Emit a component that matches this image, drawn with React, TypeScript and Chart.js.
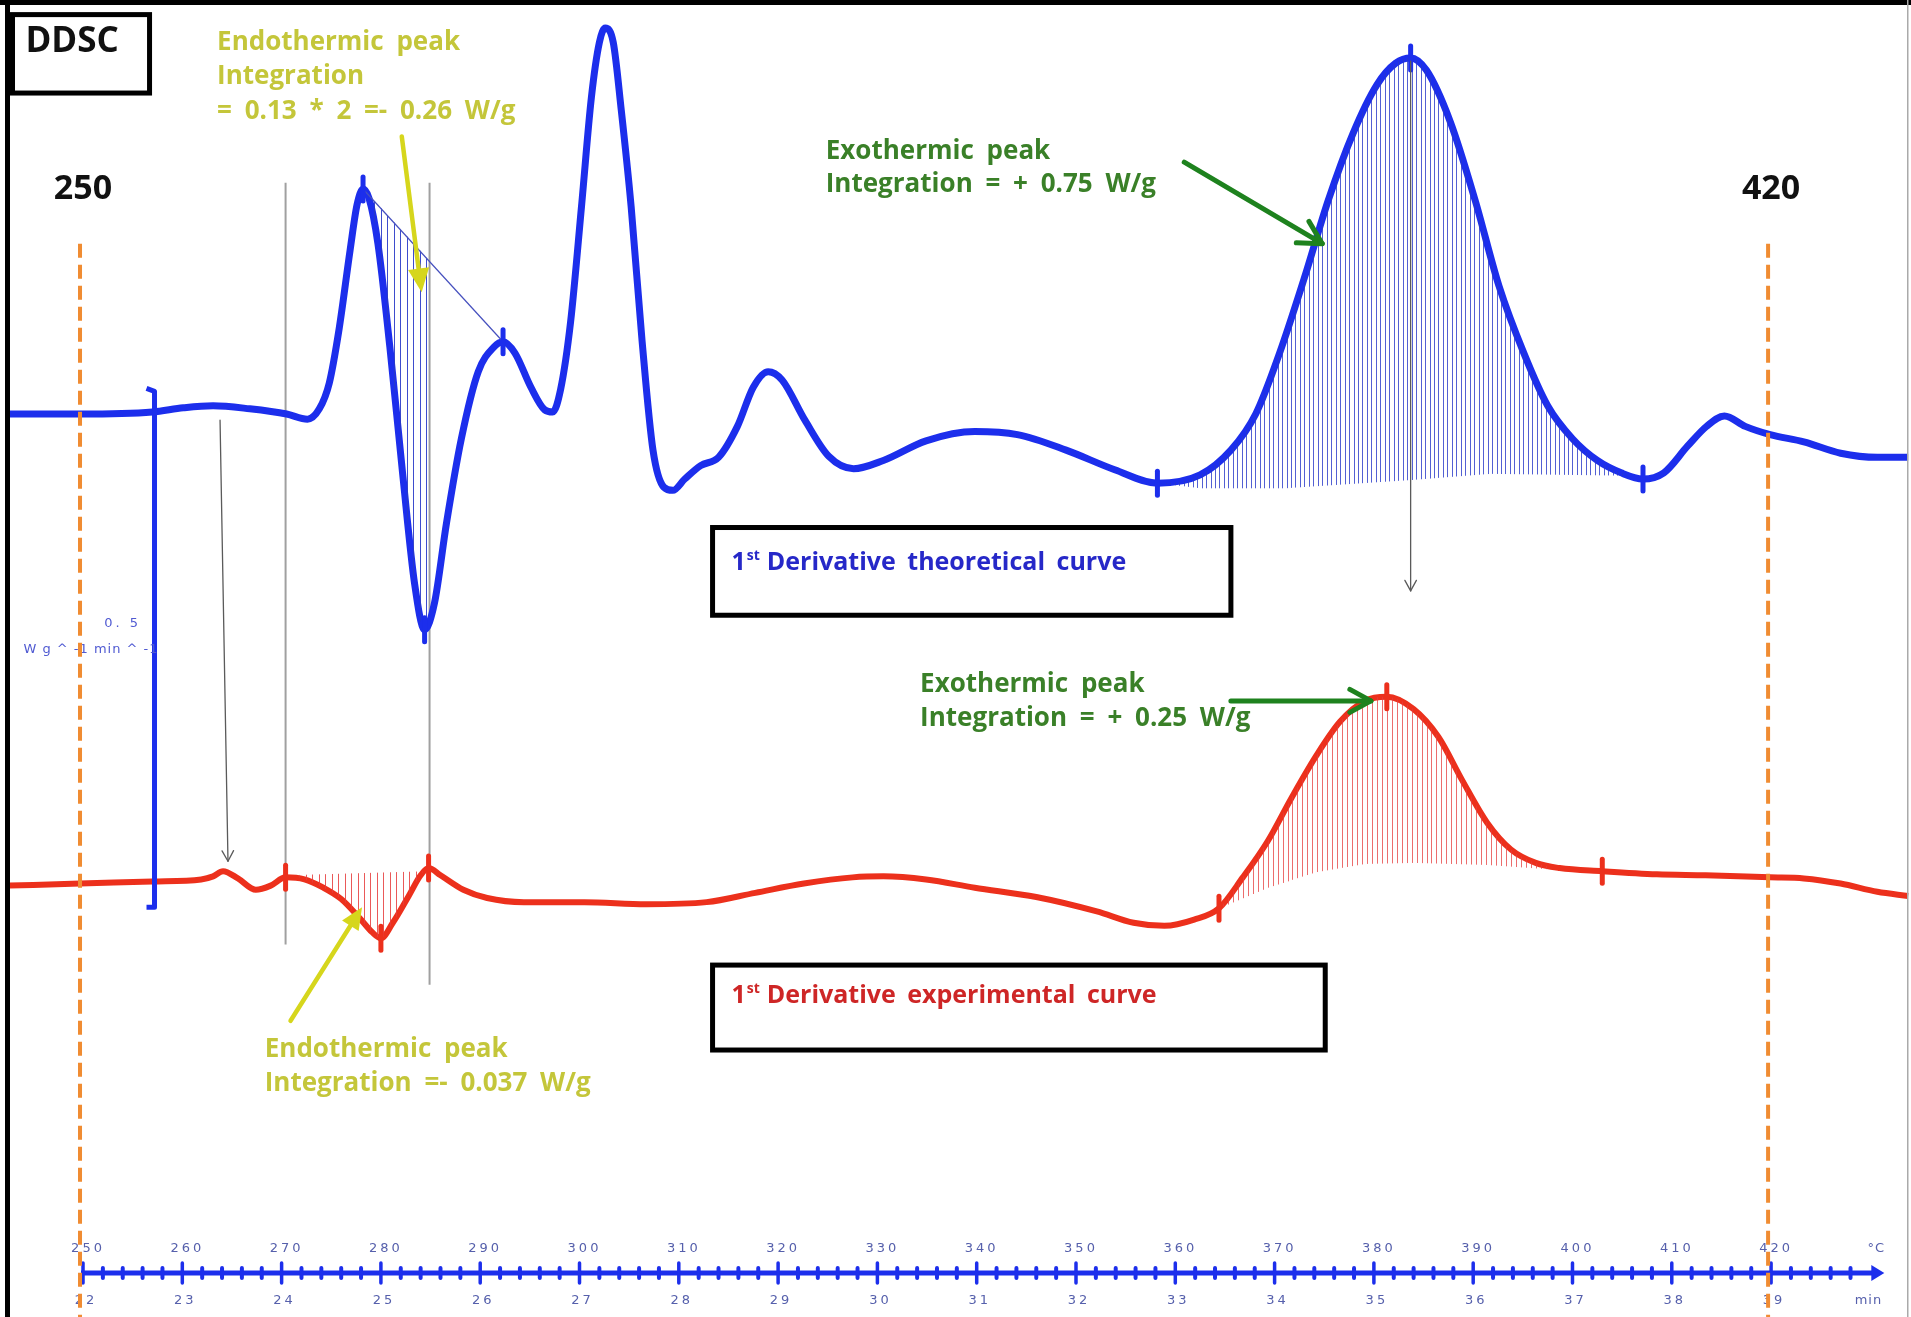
import React, { useEffect, useRef } from 'react';
import { Chart, registerables } from 'chart.js';

Chart.register(...registerables);

// ---------- DATA ----------
// 1st derivative theoretical curve (°C, W g^-1 min^-1 relative to its own baseline)
const theoTemp = [242.6, 249.7, 257.0, 260.1, 263.1, 266.8, 270.5, 272.6, 273.8, 274.8,
  275.8, 276.9, 277.6, 278.2, 278.8, 279.7, 280.9, 282.2, 283.4, 284.4,
  285.4, 286.6, 288.1, 289.8, 291.4, 292.3, 293.5, 295.1, 296.5, 297.3,
  298.1, 299.1, 300.2, 301.2, 302.0, 302.6, 303.4, 304.2, 305.2, 306.3,
  307.4, 308.5, 309.4, 310.6, 312.2, 314.0, 315.9, 317.5, 319.0, 320.4,
  322.7, 325.1, 327.6, 330.6, 334.9, 339.8, 344.1, 349.0, 353.9, 358.2,
  362.5, 365.6, 368.1, 370.5, 373.0, 375.4, 377.9, 380.3, 382.2, 383.7,
  385.3, 387.7, 390.2, 392.6, 395.1, 397.5, 400.0, 402.5, 404.9, 407.1,
  409.2, 411.6, 413.5, 415.3, 417.4, 419.9, 423.3, 427.0, 430.7, 433.8];
const theoValue = [0, 0, 0.002, 0.006, 0.008, 0.005, 0, -0.005, 0.005, 0.030,
  0.083, 0.159, 0.203, 0.218, 0.209, 0.165, 0.065, -0.059, -0.165, -0.209,
  -0.183, -0.106, -0.024, 0.041, 0.065, 0.070, 0.059, 0.026, 0.004, 0.002,
  0.024, 0.089, 0.201, 0.307, 0.360, 0.374, 0.360, 0.295, 0.201, 0.071,
  -0.035, -0.071, -0.074, -0.063, -0.050, -0.042, -0.012, 0.026, 0.041, 0.033,
  -0.006, -0.041, -0.053, -0.045, -0.026, -0.017, -0.020, -0.035, -0.054, -0.067,
  -0.059, -0.035, 0, 0.059, 0.132, 0.207, 0.272, 0.319, 0.340, 0.345,
  0.333, 0.283, 0.207, 0.124, 0.059, 0.008, -0.024, -0.045, -0.057, -0.063,
  -0.057, -0.031, -0.012, -0.002, -0.012, -0.020, -0.027, -0.038, -0.042, -0.042];

// 1st derivative experimental curve
const expTemp = [242.6, 249.7, 257.0, 261.9, 263.1, 264.1, 265.6, 267.4, 268.9, 270.4,
  272.3, 274.2, 276.0, 277.9, 279.1, 280.0, 281.2, 282.8, 284.0, 284.8,
  286.0, 288.3, 290.7, 294.4, 300.5, 306.7, 312.8, 317.7, 322.6, 327.5,
  330.6, 334.9, 339.8, 346.0, 352.1, 355.8, 358.9, 361.9, 364.4, 366.8,
  369.3, 371.7, 374.2, 376.6, 379.1, 381.3, 384.0, 386.5, 388.9, 391.4,
  393.8, 396.3, 398.7, 403.0, 408.5, 413.4, 419.9, 423.3, 427.0, 430.7, 433.8];
const expValue = [-0.002, 0, 0.002, 0.004, 0.007, 0.012, 0.005, -0.006, -0.002, 0.006,
  0.004, -0.004, -0.015, -0.034, -0.047, -0.053, -0.038, -0.012, 0.008, 0.015,
  0.008, -0.006, -0.014, -0.018, -0.018, -0.020, -0.018, -0.009, 0, 0.006,
  0.007, 0.004, -0.004, -0.013, -0.027, -0.038, -0.041, -0.035, -0.024, 0.006,
  0.041, 0.083, 0.124, 0.157, 0.177, 0.181, 0.169, 0.142, 0.100, 0.059,
  0.033, 0.020, 0.015, 0.012, 0.009, 0.008, 0.006, 0.005, 0, -0.008, -0.012];

// vertical offsets of the two curves on the common W g^-1 min^-1 axis
const THEO_OFFSET = 0.875;
const EXP_OFFSET = 0.42;

// integration markers (temperatures of data points)
const theoMarkerTemp = [278.2, 284.4, 292.3, 358.2, 383.7, 407.1];
const expMarkerTemp = [270.4, 280.0, 284.8, 364.4, 381.3, 403.0];

// integration baselines (relative values) and hatched ranges
const theoEndoBaseTemp = [278.2, 292.3];
const theoEndoBaseValue = [0.218, 0.070];
const theoEndoRange = [278.7, 284.9];
const theoExoBaseTemp = [358.2, 362.5, 371.0, 383.7, 391.7, 407.1];
const theoExoBaseValue = [-0.067, -0.072, -0.072, -0.064, -0.058, -0.060];
const theoExoRange = [358.6, 406.6];
const expEndoBaseTemp = [270.4, 284.8];
const expEndoBaseValue = [0.008, 0.012];
const expEndoRange = [271.8, 284.3];
const expExoBaseTemp = [364.4, 369.3, 374.2, 379.1, 384.0, 391.4, 398.7, 403.0];
const expExoBaseValue = [-0.024, -0.004, 0.011, 0.019, 0.020, 0.018, 0.013, 0.012];
const expExoRange = [364.8, 397.5];

// axis tick labels
const tempTickLabels = ['250', '260', '270', '280', '290', '300', '310', '320', '330', '340',
  '350', '360', '370', '380', '390', '400', '410', '420'];
const minTickLabels = ['22', '23', '24', '25', '26', '27', '28', '29', '30', '31',
  '32', '33', '34', '35', '36', '37', '38', '39'];
const limitTemps = [250, 420];
const scaleBarValue = 0.5;

// ---------- LAYOUT / STYLE ----------
const W = 1911;
const H = 1317;
const X_MIN = 241.64;
const X_MAX = 434.09;
const Y_MAX = 1.27616;
const BLUE = 'rgb(28,46,236)';
const RED = 'rgb(236,48,28)';
const FONT = '"Open Sans", "DejaVu Sans", sans-serif';
const YELLOW_TXT = 'rgb(196,198,58)';
const YELLOW = 'rgb(214,214,28)';
const GREEN_TXT = 'rgb(58,128,40)';
const GREEN = 'rgb(30,130,30)';
const AXIS_TXT = 'rgb(86,96,172)';

function interp(xs: number[], ys: number[], x: number) {
  if (x <= xs[0]) return ys[0];
  for (let i = 1; i < xs.length; i++) {
    if (x <= xs[i]) {
      const f = (x - xs[i - 1]) / (xs[i] - xs[i - 1]);
      return ys[i - 1] + f * (ys[i] - ys[i - 1]);
    }
  }
  return ys[ys.length - 1];
}

function drawArrow(ctx: CanvasRenderingContext2D, x1: number, y1: number, x2: number, y2: number,
  color: string, width: number, head: number, filled: boolean) {
  const a = Math.atan2(y2 - y1, x2 - x1);
  ctx.save();
  ctx.strokeStyle = color;
  ctx.fillStyle = color;
  ctx.lineWidth = width;
  ctx.lineCap = 'round';
  ctx.lineJoin = 'round';
  ctx.beginPath();
  ctx.moveTo(x1, y1);
  const back = filled ? head * 0.7 : 0;
  ctx.lineTo(x2 - Math.cos(a) * back, y2 - Math.sin(a) * back);
  ctx.stroke();
  const spread = filled ? 0.42 : 0.5;
  const hx1 = x2 - head * Math.cos(a - spread);
  const hy1 = y2 - head * Math.sin(a - spread);
  const hx2 = x2 - head * Math.cos(a + spread);
  const hy2 = y2 - head * Math.sin(a + spread);
  ctx.beginPath();
  if (filled) {
    ctx.moveTo(x2, y2);
    ctx.lineTo(hx1, hy1);
    ctx.lineTo(hx2, hy2);
    ctx.closePath();
    ctx.fill();
  } else {
    ctx.moveTo(hx1, hy1);
    ctx.lineTo(x2, y2);
    ctx.lineTo(hx2, hy2);
    ctx.stroke();
  }
  ctx.restore();
}

const decorPlugin = {
  id: 'ddscDecor',
  beforeDatasetsDraw(chart: any) {
    const { ctx } = chart;
    const X = (t: number) => chart.scales.x.getPixelForValue(t);
    const Y = (v: number) => chart.scales.y.getPixelForValue(v);
    // grey guide lines
    ctx.save();
    ctx.strokeStyle = 'rgb(160,160,160)';
    ctx.lineWidth = 2;
    const guides = [
      { t: 270.4, top: 1.099, bottom: 0.361 },
      { t: 284.9, top: 1.099, bottom: 0.322 },
    ];
    for (const g of guides) {
      ctx.beginPath();
      ctx.moveTo(X(g.t), Y(g.top));
      ctx.lineTo(X(g.t), Y(g.bottom));
      ctx.stroke();
    }
    ctx.restore();
  },
  afterDatasetsDraw(chart: any) {
    const { ctx, chartArea } = chart;
    const X = (t: number) => chart.scales.x.getPixelForValue(t);
    const Y = (v: number) => chart.scales.y.getPixelForValue(v);

    // ---- hatching between curve and integration baseline ----
    const hatch = (dsIndex: number, range: number[], bt: number[], bv: number[], offset: number,
      step: number, dir: number, color: string) => {
      const meta = chart.getDatasetMeta(dsIndex);
      const line = meta.dataset;
      const pts = meta.data;
      ctx.save();
      ctx.beginPath();
      ctx.rect(X(range[0]), chartArea.top, X(range[1]) - X(range[0]), chartArea.bottom - chartArea.top);
      ctx.clip();
      ctx.beginPath();
      line.path(ctx);
      const edge = dir > 0 ? chartArea.bottom : chartArea.top;
      ctx.lineTo(pts[pts.length - 1].x, edge);
      ctx.lineTo(pts[0].x, edge);
      ctx.closePath();
      ctx.clip();
      ctx.beginPath();
      for (let t = range[0]; t <= range[1] + 1e-6; t += step) {
        const x = Math.round(X(t)) + 0.5;
        ctx.moveTo(x, Y(interp(bt, bv, t) + offset));
        ctx.lineTo(x, dir > 0 ? chartArea.top : chartArea.bottom);
      }
      ctx.strokeStyle = color;
      ctx.lineWidth = 1;
      ctx.stroke();
      ctx.restore();
    };
    hatch(0, theoEndoRange, theoEndoBaseTemp, theoEndoBaseValue, THEO_OFFSET, 0.65, -1, 'rgba(40,56,200,0.9)');
    hatch(0, theoExoRange, theoExoBaseTemp, theoExoBaseValue, THEO_OFFSET, 0.45, 1, 'rgba(40,56,200,0.8)');
    hatch(1, expEndoRange, expEndoBaseTemp, expEndoBaseValue, EXP_OFFSET, 0.65, -1, 'rgba(230,60,60,0.85)');
    hatch(1, expExoRange, expExoBaseTemp, expExoBaseValue, EXP_OFFSET, 0.5, 1, 'rgba(230,60,60,0.75)');

    // thin baseline of the theoretical endothermic integration
    ctx.save();
    ctx.strokeStyle = 'rgb(70,80,190)';
    ctx.lineWidth = 1.2;
    ctx.beginPath();
    ctx.moveTo(X(theoEndoBaseTemp[0]), Y(theoEndoBaseValue[0] + THEO_OFFSET));
    ctx.lineTo(X(theoEndoBaseTemp[1]), Y(theoEndoBaseValue[1] + THEO_OFFSET));
    ctx.stroke();
    ctx.restore();

    // ---- integration markers ----
    const markers = (temps: number[], ts: number[], vs: number[], offset: number, color: string) => {
      ctx.save();
      ctx.strokeStyle = color;
      ctx.lineWidth = 5;
      ctx.lineCap = 'round';
      for (const t of temps) {
        const i = ts.indexOf(t);
        const x = X(t);
        const y = Y(vs[i] + offset);
        ctx.beginPath();
        ctx.moveTo(x, y - 12);
        ctx.lineTo(x, y + 12);
        ctx.stroke();
      }
      ctx.restore();
    };
    markers(theoMarkerTemp, theoTemp, theoValue, THEO_OFFSET, BLUE);
    markers(expMarkerTemp, expTemp, expValue, EXP_OFFSET, RED);

    // ---- scale bar 0.5 W g^-1 min^-1 ----
    const sbT = 257.2;
    const sbBottom = 0.397;
    ctx.save();
    ctx.strokeStyle = BLUE;
    ctx.lineWidth = 5;
    ctx.lineJoin = 'round';
    ctx.beginPath();
    ctx.moveTo(X(sbT) - 8, Y(sbBottom + scaleBarValue) - 3);
    ctx.lineTo(X(sbT), Y(sbBottom + scaleBarValue));
    ctx.lineTo(X(sbT), Y(sbBottom));
    ctx.lineTo(X(sbT) - 8, Y(sbBottom));
    ctx.stroke();
    ctx.fillStyle = 'rgb(80,90,210)';
    ctx.font = `13px "DejaVu Sans", sans-serif`;
    ctx.textAlign = 'center';
    ctx.textBaseline = 'middle';
    (ctx as any).letterSpacing = '3px';
    ctx.fillText(String(scaleBarValue).replace('.', '. '), X(254.0), Y(0.6715));
    (ctx as any).letterSpacing = '1px';
    ctx.fillText('W g ^ -1 min ^ -1', X(250.8), Y(0.647));
    (ctx as any).letterSpacing = '0px';
    ctx.restore();

    // ---- thin grey arrows ----
    drawArrow(ctx, X(263.8), Y(0.869), X(264.6), Y(0.4416), 'rgb(90,90,90)', 1.3, 12, false);
    drawArrow(ctx, X(383.7), Y(1.217), X(383.7), Y(0.7036), 'rgb(90,90,90)', 1.3, 12, false);

    // ---- coloured annotation arrows ----
    drawArrow(ctx, X(282.1), Y(1.144), X(284.1), Y(0.993), YELLOW, 4.5, 26, true);
    drawArrow(ctx, X(270.9), Y(0.287), X(278.1), Y(0.397), YELLOW, 4.5, 24, true);
    drawArrow(ctx, X(360.9), Y(1.119), X(374.8), Y(1.040), GREEN, 5, 26, false);
    drawArrow(ctx, X(365.6), Y(0.597), X(379.7), Y(0.597), GREEN, 5, 24, false);

    // ---- annotation texts ----
    const text = (lines: string[], t: number, vs: number[], color: string, size: number, ws: number) => {
      ctx.save();
      ctx.fillStyle = color;
      ctx.font = `700 ${size}px ${FONT}`;
      ctx.textAlign = 'left';
      ctx.textBaseline = 'middle';
      (ctx as any).wordSpacing = `${ws}px`;
      lines.forEach((s, i) => ctx.fillText(s, X(t), Y(vs[i])));
      (ctx as any).wordSpacing = '0px';
      ctx.restore();
    };
    text(['Endothermic peak', 'Integration', '= 0.13 * 2 =- 0.26 W/g'], 263.5, [1.235, 1.202, 1.168], YELLOW_TXT, 26, 6);
    text(['Exothermic peak', 'Integration = + 0.75 W/g'], 324.8, [1.129, 1.097], GREEN_TXT, 26, 6);
    text(['Exothermic peak', 'Integration = + 0.25 W/g'], 334.3, [0.6126, 0.5795], GREEN_TXT, 26, 6);
    text(['Endothermic peak', 'Integration =- 0.037 W/g'], 268.3, [0.2587, 0.2258], YELLOW_TXT, 26, 6);

    // ---- boxes ----
    const box = (t1: number, t2: number, v1: number, v2: number) => {
      ctx.save();
      ctx.strokeStyle = '#000';
      ctx.lineWidth = 5;
      ctx.strokeRect(X(t1), Y(v1), X(t2) - X(t1), Y(v2) - Y(v1));
      ctx.restore();
    };
    box(242.9, 256.7, 1.262, 1.186);
    text(['DDSC'], 244.2, [1.235], '#111', 35, 0);
    box(313.4, 365.6, 0.765, 0.680);
    box(313.4, 375.1, 0.341, 0.2587);
    const supText = (main: string, t: number, v: number, color: string) => {
      ctx.save();
      ctx.fillStyle = color;
      ctx.textBaseline = 'alphabetic';
      ctx.textAlign = 'left';
      let x = X(t);
      const y = Y(v) + 9;
      ctx.font = `700 25px ${FONT}`;
      ctx.fillText('1', x, y);
      x += ctx.measureText('1').width + 1;
      ctx.font = `700 14px ${FONT}`;
      ctx.fillText('st', x, y - 10);
      x += ctx.measureText('st').width + 7;
      ctx.font = `700 25px ${FONT}`;
      (ctx as any).wordSpacing = '5px';
      ctx.fillText(main, x, y);
      (ctx as any).wordSpacing = '0px';
      ctx.restore();
    };
    supText('Derivative theoretical curve', 315.3, 0.733, 'rgb(38,40,200)');
    supText('Derivative experimental curve', 315.3, 0.313, 'rgb(206,38,38)');

    // ---- temperature limit labels ----
    ctx.save();
    ctx.fillStyle = '#111';
    ctx.font = `700 34px ${FONT}`;
    ctx.textAlign = 'center';
    ctx.textBaseline = 'middle';
    limitTemps.forEach((t) => ctx.fillText(String(t), X(t), Y(1.093)));
    ctx.restore();

    // ---- temperature / time axis ----
    const axisV = 0.0426;
    const ay = Y(axisV);
    ctx.save();
    ctx.strokeStyle = BLUE;
    ctx.fillStyle = BLUE;
    ctx.lineWidth = 5;
    ctx.beginPath();
    ctx.moveTo(X(250) - 2, ay);
    ctx.lineTo(X(430.6), ay);
    ctx.stroke();
    ctx.beginPath();
    ctx.moveTo(X(431.4), ay);
    ctx.lineTo(X(431.4) - 13, ay - 8);
    ctx.lineTo(X(431.4) - 13, ay + 8);
    ctx.closePath();
    ctx.fill();
    ctx.lineWidth = 4;
    ctx.lineCap = 'round';
    for (let t = 252; t <= 430; t += 2) {
      if (t % 10 === 0) continue;
      ctx.beginPath();
      ctx.moveTo(X(t), ay - 5);
      ctx.lineTo(X(t), ay + 5);
      ctx.stroke();
    }
    ctx.lineWidth = 3.5;
    tempTickLabels.forEach((l) => {
      const x = X(Number(l));
      ctx.beginPath();
      ctx.moveTo(x, ay - 10);
      ctx.lineTo(x, ay + 10);
      ctx.stroke();
    });
    ctx.fillStyle = AXIS_TXT;
    ctx.font = `13px "DejaVu Sans", sans-serif`;
    ctx.textAlign = 'center';
    ctx.textBaseline = 'middle';
    (ctx as any).letterSpacing = '3px';
    tempTickLabels.forEach((l) => ctx.fillText(l, X(Number(l)) + 5, Y(0.0659)));
    minTickLabels.forEach((l, i) => ctx.fillText(l, X(Number(tempTickLabels[i])) + 3, Y(0.0155)));
    (ctx as any).letterSpacing = '1px';
    ctx.fillText('°C', X(430.6), Y(0.0659));
    ctx.fillText('min', X(429.8), Y(0.0155));
    (ctx as any).letterSpacing = '0px';
    ctx.restore();

    // ---- orange dashed limit lines ----
    ctx.save();
    ctx.strokeStyle = 'rgb(240,140,50)';
    ctx.lineWidth = 4;
    ctx.setLineDash([14, 7]);
    limitTemps.forEach((t) => {
      ctx.beginPath();
      ctx.moveTo(X(t) - 3, Y(1.040));
      ctx.lineTo(X(t) - 3, chartArea.bottom);
      ctx.stroke();
    });
    ctx.restore();

    // ---- frame ----
    ctx.save();
    ctx.fillStyle = '#000';
    ctx.fillRect(0, 0, W, 5);
    ctx.fillRect(5, 0, 5, H);
    ctx.fillStyle = 'rgb(170,170,170)';
    ctx.fillRect(W - 4, 0, 1.5, H);
    ctx.restore();
  },
};

export default function App() {
  const ref = useRef<HTMLCanvasElement | null>(null);
  useEffect(() => {
    document.body.style.margin = '0';
    document.body.style.overflow = 'hidden';
    const canvas = ref.current;
    if (!canvas) return;
    const chart = new Chart(canvas, {
      type: 'line',
      data: {
        datasets: [
          {
            label: '1st Derivative theoretical curve',
            data: theoTemp.map((t, i) => ({ x: t, y: theoValue[i] + THEO_OFFSET })),
            borderColor: BLUE,
            borderWidth: 7,
            pointRadius: 0,
            cubicInterpolationMode: 'monotone',
            fill: false,
          },
          {
            label: '1st Derivative experimental curve',
            data: expTemp.map((t, i) => ({ x: t, y: expValue[i] + EXP_OFFSET })),
            borderColor: RED,
            borderWidth: 6,
            pointRadius: 0,
            cubicInterpolationMode: 'monotone',
            fill: false,
          },
        ],
      },
      options: {
        animation: false,
        responsive: false,
        devicePixelRatio: 1,
        events: [],
        layout: { padding: 0 },
        plugins: { legend: { display: false }, tooltip: { enabled: false } },
        scales: {
          x: { type: 'linear', min: X_MIN, max: X_MAX, display: false },
          y: { type: 'linear', min: 0, max: Y_MAX, display: false },
        },
      } as any,
      plugins: [decorPlugin],
    });
    return () => chart.destroy();
  }, []);
  return (
    <div style={{ position: 'absolute', left: 0, top: 0, width: W, height: H, background: '#fff' }}>
      <canvas ref={ref} width={W} height={H} style={{ display: 'block', width: W, height: H }} />
    </div>
  );
}
